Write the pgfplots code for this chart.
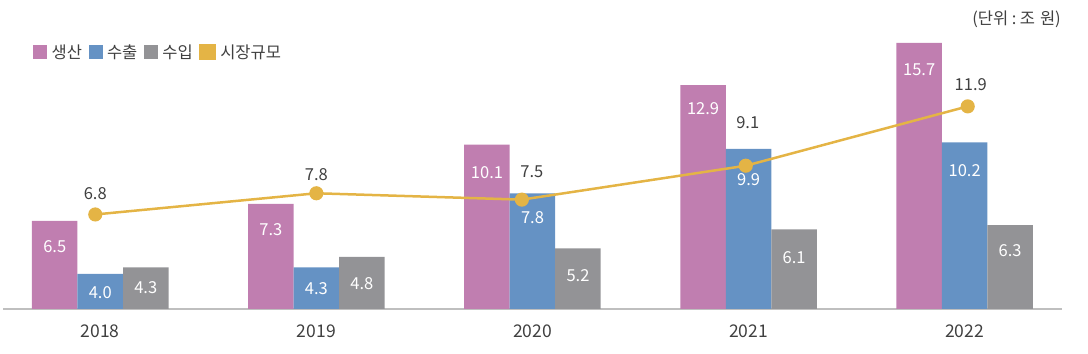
\documentclass[border=0pt]{standalone}
\usepackage{fontspec}
\setmainfont{Noto Sans CJK KR}
\usepackage{pgfplots}
\pgfplotsset{compat=1.18}
\usepackage{pgfplotstable}
\definecolor{cprod}{HTML}{C07EB0}
\definecolor{cexp}{HTML}{6592C4}
\definecolor{cimp}{HTML}{939396}
\definecolor{cmkt}{HTML}{E4B445}
\definecolor{ctxt}{HTML}{404040}
\definecolor{cax}{HTML}{BFBFBF}

% the 2022 production bar is drawn cut at the top of the frame (14.89), labelled 15.7
\pgfplotstableread{
x y lab dy
0 6.5 6.5 26
1 7.3 7.3 26
2 10.1 10.1 28
3 12.9 12.9 23
4 14.89 15.7 27
}\tprod
\pgfplotstableread{
x y dy
0 4.0 19
1 4.3 21
2 7.8 24
3 9.9 31
4 10.2 28
}\texp
\pgfplotstableread{
x y dy
0 4.3 20
1 4.8 27
2 5.2 27
3 6.1 28
4 6.3 26
}\timp
\pgfplotstableread{
x y dy dx
-0.023 6.8 21 0
0 7.8 19 0
-0.049 7.5 28 10
-0.013 9.1 43 2
0.014 11.9 22 3
}\tmkt

\newcommand{\fs}{\fontsize{16.5bp}{19bp}\selectfont}
\newcommand{\fy}{\fontsize{17.5bp}{20bp}\selectfont}
\newcommand{\fl}{\fontsize{16.5bp}{19bp}\selectfont}

\begin{document}
\begin{tikzpicture}
\useasboundingbox (0,0) rectangle (1088bp,354bp);
\begin{axis}[
  at={(3bp,45bp)}, anchor=south west,
  scale only axis, width=1059bp, height=266bp,
  xmin=-0.45, xmax=4.45, ymin=2.34, ymax=14.89,
  axis x line*=bottom, axis y line=none,
  x axis line style={cax, line width=1.6bp},
  xtick={0,1,2,3,4}, xticklabels={2018,2019,2020,2021,2022},
  major tick length=0pt,
  xticklabel style={font=\fy, text=ctxt, yshift=-12bp},
  ytick=\empty,
  legend columns=4,
  legend style={at={(0,1)}, anchor=west, xshift=30bp, yshift=-9bp,
    draw=none, fill=none, inner sep=0pt, font=\fl, text=ctxt,
    /tikz/every even column/.append style={column sep=2bp},
    nodes={inner xsep=4.5bp, inner ysep=2bp}},
  legend cell align=left,
]
\addplot[ybar, bar width=45.5bp, bar shift=-45.5bp, fill=cprod, draw=none,
  legend image code/.code={\fill[cprod] (0bp,-7bp) rectangle (14bp,7bp);},
  nodes near coords, point meta=explicit symbolic,
  visualization depends on={\thisrow{dy} \as \dy},
  every node near coord/.append style={anchor=center, xshift=-45.5bp, yshift=-\dy bp, text=white, font=\fs}]
  table[x=x, y=y, meta=lab]{\tprod};
\addlegendentry{생산}
\addplot[ybar, bar width=45.5bp, bar shift=0bp, fill=cexp, draw=none,
  legend image code/.code={\fill[cexp] (0bp,-7bp) rectangle (14bp,7bp);},
  nodes near coords, point meta=explicit symbolic,
  visualization depends on={\thisrow{dy} \as \dy},
  every node near coord/.append style={anchor=center, yshift=-\dy bp, text=white, font=\fs}]
  table[x=x, y=y, meta=y]{\texp};
\addlegendentry{수출}
\addplot[ybar, bar width=45.5bp, bar shift=45.5bp, fill=cimp, draw=none,
  legend image code/.code={\fill[cimp] (0bp,-7bp) rectangle (14bp,7bp);},
  nodes near coords, point meta=explicit symbolic,
  visualization depends on={\thisrow{dy} \as \dy},
  every node near coord/.append style={anchor=center, xshift=45.5bp, yshift=-\dy bp, text=white, font=\fs}]
  table[x=x, y=y, meta=y]{\timp};
\addlegendentry{수입}
\addplot[cmkt, line width=2.5bp, mark=*, mark size=5.8bp,
  mark options={fill=cmkt, draw=none},
  legend image code/.code={\fill[cmkt] (0bp,-7bp) rectangle (14bp,7bp);},
  nodes near coords, point meta=explicit symbolic,
  visualization depends on={\thisrow{dy} \as \dy},
  visualization depends on={\thisrow{dx} \as \dx},
  every node near coord/.append style={anchor=center, yshift=\dy bp, xshift=\dx bp, text=ctxt, font=\fs}]
  table[x expr=\thisrow{x}+\coordindex, y=y, meta=y]{\tmkt};
\addlegendentry{시장규모}
\end{axis}
\node[anchor=east, font=\fl, text=ctxt, inner sep=0pt] at (1061bp,335bp) {(단위\hspace{3.5bp}:\hspace{3.5bp}조\hspace{5bp}원)};
\end{tikzpicture}
\end{document}
